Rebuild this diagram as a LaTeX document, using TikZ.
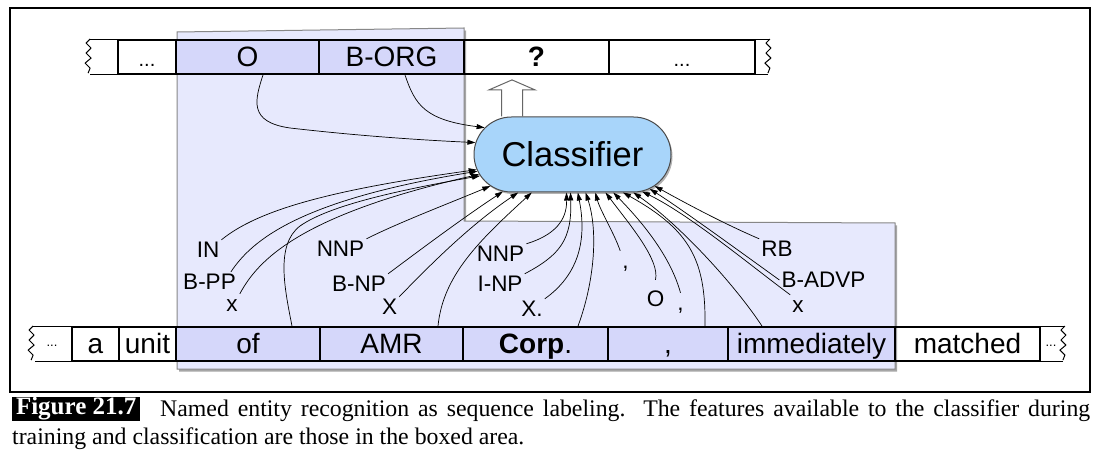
\documentclass[tikz,border=0pt]{standalone}
\usepackage{fontspec}
\setmainfont{Liberation Sans}
\newfontfamily\capfont{Liberation Serif}
\usetikzlibrary{arrows.meta,shapes.misc,shadows,calc}
\pgfdeclarelayer{background}
\pgfsetlayers{background,main}

\definecolor{lav}{RGB}{231,233,253}
\definecolor{cellblue}{RGB}{213,215,250}
\definecolor{clsblue}{RGB}{168,213,250}
\definecolor{boxedge}{RGB}{135,135,135}

\tikzset{
  tape/.style={draw=black, line width=1.8pt, minimum height=34pt, inner sep=0pt,
    font=\fontsize{28}{28}\selectfont, text height=20pt, text depth=0pt},
  tapeon/.style={tape, fill=cellblue},
  dotsfont/.style={font=\fontsize{20}{20}\selectfont},
  feat/.style={font=\fontsize{22.5}{22.5}\selectfont, inner sep=2pt,
    text height=16pt, text depth=0pt, anchor=base},
  link/.style={line width=0.7pt, -{Triangle[length=8pt,width=5pt]}},
  squig/.style={line width=1pt, line join=round},
  softshadow/.style={drop shadow={shadow xshift=2pt, shadow yshift=-2.5pt, opacity=0.35, fill=black}},
  capstyle/.style={font=\capfont\fontsize{23.8}{27}\selectfont, inner sep=0pt, anchor=base west},
}

\begin{document}
\begin{tikzpicture}[x=1pt, y=-1pt]
\useasboundingbox (0,0) rectangle (1114,454);
\begin{pgfonlayer}{background}
  \fill[white] (0,0) rectangle (1114,454);
\end{pgfonlayer}

% outer frame
\draw[line width=1.3pt] (10,8) rectangle (1090,392);

% boxed feature area
\draw[draw=boxedge, line width=1pt, fill=lav, softshadow]
  (177,32) -- (464,28) -- (464,221) -- (895,223) -- (895,369) -- (177,369) -- cycle;

% upper tape: labels
\node[tape, dotsfont] (tdots)  at (147,57)   [minimum width=58pt]  {...};
\node[tapeon]         (tO)     at (247.5,57) [minimum width=143pt] {O};
\node[tapeon]         (tBORG)  at (391.5,57) [minimum width=145pt] {B-ORG};
\node[tape]           (tQ)     at (536.5,57) [minimum width=145pt] {\bfseries ?};
\node[tape, dotsfont] (tdotsb) at (682,57)   [minimum width=146pt] {...};

% upper tape: torn ends
\draw[squig] ($(tdots.north west)+(-27,0)$) -- (tdots.north west);
\draw[squig] ($(tdots.south west)+(-27,0)$) -- (tdots.south west);
\draw[squig] ($(tdots.north west)+(-27,0)$) -- ++(-4,4) -- ++(5,5) -- ++(-5,5) -- ++(5,5)
  -- ++(-6,5) -- ++(5,5) -- ++(-2,5);
\draw[squig] (tdotsb.north east) -- ++(14,0);
\draw[squig] (tdotsb.south east) -- ++(12,0);
\draw[squig] ($(tdotsb.north east)+(14,0)$) -- ++(-4,4) -- ++(5,5) -- ++(-5,5) -- ++(5,5)
  -- ++(-6,5) -- ++(5,5) -- ++(-2,5);

% lower tape: words
\node[tape]   (ba)       at (95.5,344)  [minimum width=47pt]  {a};
\node[tape]   (bunit)    at (147.5,344) [minimum width=57pt]  {unit};
\node[tapeon] (bof)      at (248,344)   [minimum width=144pt] {of};
\node[tapeon] (bAMR)     at (391.5,344) [minimum width=143pt] {AMR};
\node[tapeon] (bCorp)    at (535.5,344) [minimum width=145pt] {{\bfseries Corp}.};
\node[tapeon] (bcomma)   at (668,344)   [minimum width=120pt] {,};
\node[tapeon] (bimm)     at (811.5,344) [minimum width=167pt] {immediately};
\node[tape]   (bmatched) at (967.5,344) [minimum width=145pt] {matched};

% lower tape: torn ends
\draw[squig] (ba.north west) -- ++(-38,0);
\draw[squig] (ba.south west) -- ++(-36,0);
\draw[squig] ($(ba.north west)+(-38,0)$) -- ++(-4,4) -- ++(5,5) -- ++(-5,5) -- ++(5,5)
  -- ++(-6,5) -- ++(5,5) -- ++(-2,5);
\node[anchor=base, font=\fontsize{13}{13}\selectfont, inner sep=0pt] (bldots) at (52,347) {...};
\draw[squig] (bmatched.north east) -- ++(24,0);
\draw[squig] (bmatched.south east) -- ++(22,0);
\draw[squig] ($(bmatched.north east)+(24,0)$) -- ++(-4,4) -- ++(5,5) -- ++(-5,5) -- ++(5,5)
  -- ++(-6,5) -- ++(5,5) -- ++(-2,5);
\node[anchor=base, font=\fontsize{13}{13}\selectfont, inner sep=0pt] (brdots) at (1051,347) {...};

% classifier
\node[rounded rectangle, draw=black!70, line width=1pt, fill=clsblue,
  minimum width=197pt, minimum height=75pt, inner sep=0pt,
  font=\fontsize{34.5}{34.5}\selectfont,
  drop shadow={shadow xshift=1.5pt, shadow yshift=-2pt, opacity=0.3, fill=black}]
  (cls) at (572.5,154.5) {Classifier};

% output arrow from the classifier to the tag being predicted
\coordinate (upbase) at ($(cls.north)+(-60.5,0)$);
\coordinate (uptip) at ($(upbase |- tQ.south)+(0,5)$);
\begin{pgfonlayer}{background}
\draw[draw=black!60, line width=1pt, fill=white, line join=miter]
  ($(upbase)+(-10.5,0)$) -- ($(uptip)+(-10.5,10)$) -- ($(uptip)+(-23,10)$) -- (uptip)
  -- ($(uptip)+(23,10)$) -- ($(uptip)+(10.5,10)$) -- ($(upbase)+(10.5,0)$);
\end{pgfonlayer}

% feature labels
\node[feat] (lIN)    at (208,258)   {IN};
\node[feat] (lBPP)   at (209.5,290) {B-PP};
\node[feat] (lx1)    at (232,312)   {x};
\node[feat] (lNNPa)  at (340.5,257) {NNP};
\node[feat] (lBNP)   at (359,292)   {B-NP};
\node[feat] (lX)     at (389.5,315) {X};
\node[feat] (lNNPb)  at (500.5,262) {NNP};
\node[feat] (lINP)   at (500,292)   {I-NP};
\node[feat] (lXd)    at (532,317)   {X.};
\node[feat] (lc1)    at (625.5,269) {,};
\node[feat] (lO)     at (655.5,307) {O};
\node[feat] (lc2)    at (680.5,311) {,};
\node[feat] (lRB)    at (777,257)   {RB};
\node[feat] (lBADVP) at (823.5,288) {B-ADVP};
\node[feat] (lx3)    at (798,313)   {x};

% previous tags
\draw[link] ([xshift=15.5pt]tO.south) .. controls (255,100) and (248,122) .. (290,128)
  .. controls (360,136) and (420,140) .. (cls.173.4);
\draw[link] ([xshift=13.5pt]tBORG.south) .. controls (415,105) and (425,120) .. (cls.163.4);

% features of "of"
\draw[link] (lIN.north east) .. controls (258,210) and (330,190) .. (cls.189);
\draw[link] ([xshift=-7pt]lBPP.north east) .. controls (252,240) and (300,200) .. (cls.190.5);
\draw[link] (lx1.north east) .. controls (258,260) and (300,215) .. (cls.192);
\draw[link] ([xshift=44pt]bof.north) .. controls (285,290) and (275,245) .. (300,226)
  .. controls (330,205) and (400,190) .. (cls.193.5);

% features of "AMR"
\draw[link] (lNNPa.north east) .. controls (400,222) and (450,203) .. (cls.201);
\draw[link] (lBNP.north east) .. controls (420,250) and (460,220) .. (cls.208);
\draw[link] (lX.north east) .. controls (430,265) and (470,225) .. (cls.215);
\draw[link] ([xshift=46.5pt]bAMR.north) .. controls (443,275) and (480,240) .. (cls.223.5);

% features of "Corp."
\draw[link] (lNNPb.north east) .. controls (555,235) and (567,220) .. (cls.261.7);
\draw[link] (lINP.north east) .. controls (560,255) and (572,240) .. (cls.267.7);
\draw[link] (lXd.north east) .. controls (585,270) and (585,230) .. (cls.278.3);
\draw[link] ([xshift=42.5pt]bCorp.north) .. controls (595,280) and (598,230) .. (cls.289.8);

% features of ","
\draw[link] (lc1.north west) .. controls (615,235) and (600,210) .. (cls.301);
\draw[link] ([yshift=9pt]lO.north) .. controls (660,260) and (630,225) .. (cls.311.8);
\draw[link] (lc2.north) .. controls (672,262) and (650,230) .. (cls.317.2);
\draw[link] ([xshift=37pt]bcomma.north) .. controls (706,260) and (690,230) .. (cls.323.4);

% features of "immediately"
\draw[link] ([xshift=-49.5pt]bimm.north) .. controls (735,285) and (680,225) .. (cls.328.6);
\draw[link] (lx3.north west) .. controls (750,265) and (690,215) .. (cls.332.6);
\draw[link] (lBADVP.west) .. controls (735,248) and (680,208) .. (cls.336.6);
\draw[link] (lRB.north west) .. controls (720,222) and (680,200) .. (cls.339.6);

% caption
\node[fill=black, text=white, font=\capfont\bfseries\fontsize{25}{27}\selectfont,
  minimum width=128pt, minimum height=24pt, inner sep=0pt, anchor=west]
  (figlab) at (12,408.5) {Figure 21.7};
\node[capstyle] (cap1) at (160,416)
  {\makebox[930pt][s]{Named entity recognition as sequence labeling.\ \ The features available to the classifier during}};
\node[capstyle] (cap2) at (12,444)
  {training and classification are those in the boxed area.};
\end{tikzpicture}
\end{document}
